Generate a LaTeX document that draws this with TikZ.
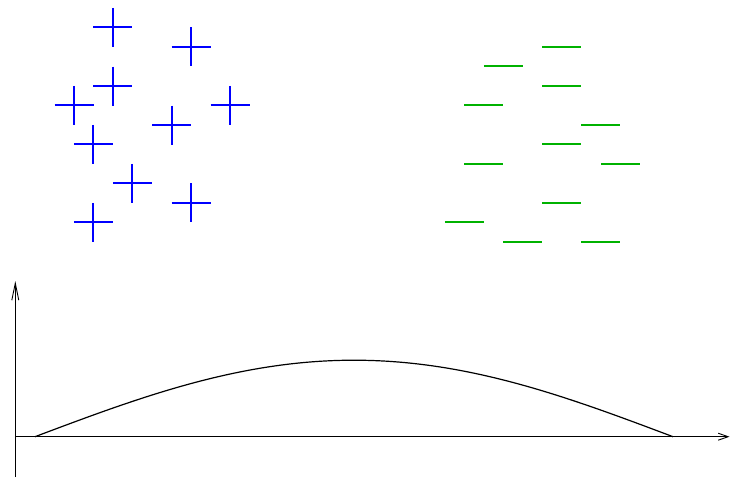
\documentclass[tikz,border=0pt]{standalone}
\usetikzlibrary{arrows.meta}
\definecolor{plusblue}{RGB}{0,0,255}
\definecolor{minusgreen}{RGB}{0,178,0}
\tikzset{
  plusmark/.style={draw=plusblue, line width=1.9pt},
  minusmark/.style={draw=minusgreen, line width=1.9pt},
  axisline/.style={draw=black, line width=0.9pt},
  curveline/.style={draw=black, line width=1.2pt},
}
\begin{document}
\begin{tikzpicture}[x=1pt,y=-1pt]
\useasboundingbox (0,0) rectangle (730,477);
% plus marks
\foreach \px/\py in {112.7/27.3,191/46.7,112.7/86,74/105.3,230/105.3,171.7/125,93.3/144.3,132.3/183.3,191/202.7,93.3/222.3}{
  \draw[plusmark] (\px-19.5,\py) -- (\px+19.5,\py);
  \draw[plusmark] (\px,\py-19.5) -- (\px,\py+19.5);
}
% minus marks
\foreach \mx/\my in {561.8/46.7,503.3/66,561.8/85.7,483.8/105.3,600.8/125,561.8/144.3,483.8/164,620.5/164,561.8/202.7,464.3/222.3,522.7/241.7,600.8/241.7}{
  \draw[minusmark] (\mx-19.5,\my) -- (\mx+19.5,\my);
}
% axes
\coordinate (ybot) at (15.3,477);
\coordinate (ytop) at (15.3,281);
\coordinate (xleft) at (15.3,436.7);
\coordinate (xright) at (729.5,436.7);
\draw[axisline, -{Straight Barb[length=17pt,width=7pt]}] (ybot) -- (ytop);
\draw[axisline, -{Straight Barb[length=10pt,width=7pt]}] (xleft) -- (xright);
% curve
\draw[curveline] plot[domain=0:180, samples=120, smooth] ({35+3.54444*\x},{436.7-76.5*sin(\x)});
\end{tikzpicture}
\end{document}
